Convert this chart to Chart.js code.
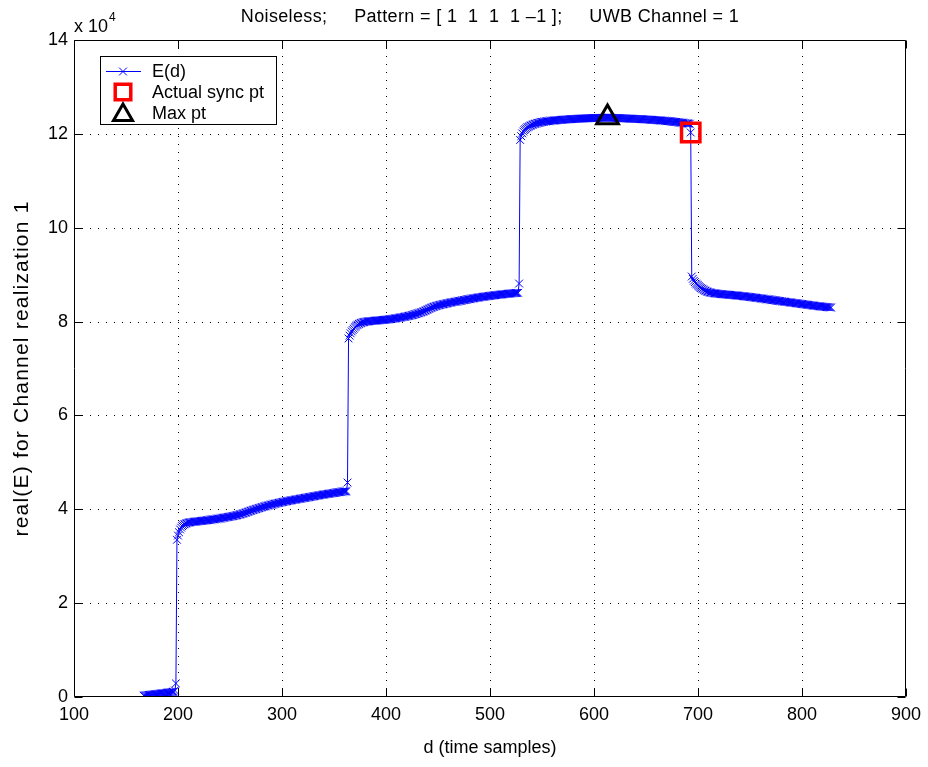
<!DOCTYPE html>
<html>
<head>
<meta charset="utf-8">
<title>E(d) sync search</title>
<script src="https://cdn.jsdelivr.net/npm/chart.js@4/dist/chart.umd.min.js"></script>
<style>
  html, body { margin: 0; padding: 0; background: #fff; }
  canvas { display: block; }
</style>
</head>
<body>
<canvas id="c" width="928" height="767"></canvas>
<script>
// Timing metric E(d) for one UWB channel realization, one value per sample d.
const FIRST_SAMPLE = 167;

// before the first pulse enters the window
const eRun0 = [
  300, 330, 360, 380, 410, 440, 460, 490, 520, 540, 570, 600, 620, 650, 680, 700,
  730, 760, 790, 810, 840, 870, 900, 930, 960, 990, 1020, 1060, 1100, 1150, 1400, 2900
];
// one pulse captured (d = 199 .. 363)
const eRun1 = [
  33500, 34400, 35100, 35700, 36100, 36400, 36600, 36800, 36900, 37000, 37100, 37150,
  37200, 37240, 37270, 37300, 37330, 37360, 37380, 37410, 37430, 37460,
  37480, 37510, 37530, 37560, 37580, 37610, 37640, 37670, 37700, 37730,
  37760, 37790, 37820, 37850, 37880, 37910, 37940, 37980, 38010, 38050,
  38080, 38120, 38160, 38190, 38230, 38270, 38310, 38350, 38390, 38430,
  38470, 38510, 38560, 38600, 38650, 38700, 38750, 38810, 38870, 38930,
  38990, 39060, 39130, 39200, 39280, 39360, 39440, 39520, 39600, 39680,
  39760, 39840, 39910, 39980, 40050, 40120, 40190, 40260, 40330, 40400,
  40470, 40540, 40600, 40660, 40720, 40780, 40840, 40900, 40950, 41010,
  41060, 41120, 41170, 41220, 41270, 41320, 41370, 41420, 41470, 41520,
  41560, 41610, 41650, 41700, 41740, 41790, 41830, 41870, 41910, 41950,
  41990, 42030, 42070, 42110, 42150, 42190, 42230, 42270, 42310, 42350,
  42390, 42430, 42470, 42510, 42550, 42590, 42630, 42670, 42710, 42750,
  42790, 42830, 42870, 42910, 42950, 42990, 43030, 43060, 43100, 43140,
  43170, 43210, 43240, 43280, 43310, 43350, 43380, 43420, 43450, 43490,
  43520, 43550, 43590, 43620, 43650, 43680, 43710, 43740, 43770, 43800,
  43830, 43860, 45700
];
// two pulses captured (d = 364 .. 528)
const eRun2 = [
  76400, 77000, 77500, 77900, 78200, 78500, 78800, 79000, 79200, 79350, 79500, 79600,
  79700, 79780, 79850, 79900, 79950, 79990, 80020, 80050, 80080, 80100,
  80120, 80140, 80160, 80180, 80200, 80220, 80240, 80260, 80280, 80300,
  80320, 80340, 80360, 80380, 80400, 80430, 80460, 80490, 80520, 80550,
  80580, 80610, 80640, 80680, 80710, 80750, 80790, 80830, 80870, 80910,
  80950, 80990, 81030, 81080, 81120, 81170, 81220, 81270, 81320, 81380,
  81440, 81500, 81560, 81620, 81690, 81760, 81830, 81910, 81990, 82070,
  82150, 82250, 82350, 82460, 82570, 82680, 82790, 82890, 82980, 83070,
  83150, 83230, 83300, 83370, 83430, 83490, 83550, 83600, 83650, 83700,
  83750, 83800, 83850, 83900, 83950, 84000, 84050, 84100, 84140, 84180,
  84220, 84260, 84300, 84340, 84380, 84420, 84460, 84500, 84540, 84580,
  84620, 84660, 84700, 84740, 84780, 84820, 84860, 84900, 84940, 84980,
  85020, 85060, 85100, 85130, 85170, 85200, 85240, 85270, 85300, 85330,
  85360, 85390, 85420, 85450, 85480, 85510, 85540, 85570, 85600, 85620,
  85650, 85680, 85700, 85730, 85750, 85780, 85800, 85830, 85850, 85870,
  85900, 85920, 85940, 85970, 85990, 86010, 86030, 86050, 86070, 86090,
  86110, 86130, 88100
];
// three pulses captured (d = 529 .. 693)
const eRun3 = [
  118700, 119500, 120100, 120500, 120800, 121000, 121200, 121400, 121500, 121650, 121750, 121850,
  121950, 122050, 122130, 122200, 122270, 122330, 122380, 122430, 122480, 122520,
  122560, 122600, 122630, 122660, 122690, 122720, 122740, 122770, 122790, 122810,
  122830, 122850, 122870, 122890, 122910, 122930, 122950, 122970, 122990, 123010,
  123030, 123050, 123060, 123080, 123090, 123110, 123120, 123140, 123150, 123160,
  123180, 123190, 123200, 123220, 123230, 123240, 123250, 123260, 123270, 123280,
  123290, 123300, 123310, 123320, 123330, 123340, 123350, 123350, 123360, 123370,
  123380, 123380, 123390, 123400, 123400, 123410, 123420, 123420, 123430, 123440,
  123440, 123460, 123500, 123470, 123450, 123430, 123420, 123410, 123400, 123390,
  123380, 123370, 123360, 123350, 123340, 123330, 123320, 123310, 123300, 123290,
  123280, 123270, 123260, 123250, 123240, 123230, 123220, 123210, 123200, 123190,
  123180, 123170, 123160, 123150, 123140, 123120, 123110, 123100, 123080, 123070,
  123060, 123040, 123030, 123010, 123000, 122980, 122970, 122950, 122940, 122920,
  122900, 122880, 122870, 122850, 122830, 122810, 122790, 122770, 122750, 122730,
  122710, 122690, 122670, 122650, 122620, 122600, 122580, 122550, 122530, 122500,
  122480, 122450, 122420, 122400, 122370, 122340, 122310, 122280, 122250, 122220,
  122190, 122150, 120300
];
// inverted last pulse enters the window (d = 694 .. 828)
const eRun4 = [
  89600, 89100, 88700, 88400, 88100, 87900, 87700, 87500, 87300, 87150, 87000, 86850,
  86700, 86580, 86470, 86380, 86300, 86240, 86180, 86130, 86090, 86050,
  86020, 85990, 85960, 85930, 85910, 85880, 85860, 85840, 85820, 85800,
  85780, 85760, 85740, 85720, 85700, 85680, 85660, 85640, 85620, 85600,
  85580, 85560, 85540, 85510, 85490, 85470, 85440, 85420, 85390, 85370,
  85340, 85320, 85290, 85260, 85240, 85210, 85180, 85150, 85120, 85090,
  85060, 85030, 85000, 84970, 84940, 84910, 84880, 84850, 84820, 84790,
  84760, 84730, 84700, 84670, 84640, 84610, 84580, 84550, 84520, 84490,
  84460, 84430, 84400, 84370, 84340, 84310, 84280, 84250, 84220, 84190,
  84160, 84130, 84100, 84070, 84040, 84010, 83980, 83950, 83920, 83890,
  83860, 83830, 83800, 83770, 83740, 83710, 83680, 83650, 83620, 83590,
  83560, 83530, 83500, 83470, 83440, 83410, 83380, 83350, 83320, 83300,
  83270, 83250, 83220, 83200, 83170, 83150, 83130, 83100, 83080, 83060,
  83040, 83020, 83000
];

const SYNC_SAMPLE = 693;                       // actual synchronisation point
const xTicks = [100, 200, 300, 400, 500, 600, 700, 800, 900];
const yTicks = [0, 20000, 40000, 60000, 80000, 100000, 120000, 140000];
const yTickLabels = ['0', '2', '4', '6', '8', '10', '12', '14'];
const titleText = 'Noiseless;     Pattern = [ 1  1  1  1 \u20131 ];     UWB Channel = 1';
const xTitle = 'd (time samples)';
const yTitle = 'real(E) for Channel realization 1';
const legendLabels = ['E(d)', 'Actual sync pt', 'Max pt'];

// ---- derived series ----
const energy = [...eRun0, ...eRun1, ...eRun2, ...eRun3, ...eRun4];
const curve = energy.map((v, i) => ({ x: FIRST_SAMPLE + i, y: v }));
const maxIdx = energy.indexOf(Math.max(...energy));
const maxPt = [{ x: FIRST_SAMPLE + maxIdx, y: energy[maxIdx] }];
const syncPt = [{ x: SYNC_SAMPLE, y: energy[SYNC_SAMPLE - FIRST_SAMPLE] }];

const FONT = "'Liberation Sans', Arial, Helvetica, sans-serif";
const BLUE = '#0000ff';

const styles = {
  curve:  { pointStyle: 'crossRot', radius: 5.5, borderWidth: 1, color: BLUE },
  sync:   { pointStyle: 'rect', radius: 13, borderWidth: 3.5, color: '#ff0000' },
  max:    { pointStyle: 'triangle', radius: 12.5, borderWidth: 3, color: '#000000' }
};

function marker(ctx, st, x, y, radius, fill) {
  ctx.save();
  ctx.strokeStyle = st.color;
  ctx.fillStyle = fill || 'rgba(0,0,0,0)';
  ctx.lineWidth = st.borderWidth;
  Chart.helpers.drawPoint(ctx, { pointStyle: st.pointStyle, rotation: 0, radius: radius, borderWidth: st.borderWidth }, x, y);
  ctx.restore();
}

// axes frame, dotted grid, inward ticks and all the lettering
const decor = {
  id: 'decor',
  beforeDatasetsDraw(chart) {
    const { ctx, chartArea: a, scales: { x, y } } = chart;
    ctx.save();
    ctx.strokeStyle = '#000';
    ctx.lineWidth = 1;
    ctx.setLineDash([1, 7]);
    ctx.beginPath();
    xTicks.forEach(t => {
      if (t <= x.min || t >= x.max) return;
      const px = Math.round(x.getPixelForValue(t)) + 0.5;
      ctx.moveTo(px, a.bottom); ctx.lineTo(px, a.top);
    });
    yTicks.forEach(t => {
      if (t <= y.min || t >= y.max) return;
      const py = Math.round(y.getPixelForValue(t)) + 0.5;
      ctx.moveTo(a.left, py); ctx.lineTo(a.right, py);
    });
    ctx.stroke();
    ctx.restore();
  },
  afterDatasetsDraw(chart) {
    const { ctx, chartArea: a, scales: { x, y } } = chart;
    const L = Math.round(a.left) + 0.5, R = Math.round(a.right) - 0.5;
    const T = Math.round(a.top) + 0.5, B = Math.round(a.bottom) - 0.5;
    ctx.save();
    ctx.strokeStyle = '#000';
    ctx.lineWidth = 1;
    ctx.beginPath();
    ctx.rect(L, T, R - L, B - T);
    const tl = 8;
    xTicks.forEach(t => {
      const px = Math.round(x.getPixelForValue(t)) + 0.5;
      ctx.moveTo(px, B); ctx.lineTo(px, B - tl);
      ctx.moveTo(px, T); ctx.lineTo(px, T + tl);
    });
    yTicks.forEach(t => {
      const py = Math.round(y.getPixelForValue(t)) + 0.5;
      ctx.moveTo(L, py); ctx.lineTo(L + tl, py);
      ctx.moveTo(R, py); ctx.lineTo(R - tl, py);
    });
    ctx.stroke();

    // legend
    const bx = 100.5, by = 56.5, bw = 176, bh = 68;
    ctx.fillStyle = '#fff';
    ctx.fillRect(bx, by, bw, bh);
    ctx.strokeRect(bx, by, bw, bh);
    const mx = 123, rows = [71, 92, 113];
    ctx.strokeStyle = BLUE;
    ctx.beginPath();
    ctx.moveTo(106, rows[0] + 0.5); ctx.lineTo(141, rows[0] + 0.5);
    ctx.stroke();
    marker(ctx, styles.curve, mx, rows[0] + 0.5, styles.curve.radius);
    marker(ctx, styles.sync, mx, rows[1], 11, '#fff');
    marker(ctx, styles.max, mx, rows[2] + 2, 11, '#fff');
    ctx.fillStyle = '#000';
    ctx.font = '18px ' + FONT;
    ctx.textAlign = 'left';
    ctx.textBaseline = 'middle';
    legendLabels.forEach((s, i) => ctx.fillText(s, 152, rows[i] + 1));
    ctx.restore();
  },
  afterDraw(chart) {
    const { ctx, chartArea: a } = chart;
    const cx = (a.left + a.right) / 2;
    const spaced = 'letterSpacing' in ctx;
    ctx.save();
    ctx.fillStyle = '#000';
    ctx.font = '18px ' + FONT;
    ctx.textBaseline = 'middle';
    ctx.textAlign = 'center';
    if (spaced) ctx.letterSpacing = '0.35px';
    ctx.fillText(titleText, cx, 17);
    if (spaced) ctx.letterSpacing = '0px';
    ctx.fillText(xTitle, cx, 748);
    ctx.textAlign = 'left';
    ctx.textBaseline = 'alphabetic';
    ctx.fillText('x 10', 74, 32);
    ctx.font = '12px ' + FONT;
    ctx.fillText('4', 109, 21);
    // rotated y label, set a little larger and more open than the rest
    ctx.font = '21px ' + FONT;
    if (spaced) ctx.letterSpacing = '1.2px';
    ctx.translate(22, (a.top + a.bottom) / 2);
    ctx.rotate(-Math.PI / 2);
    ctx.textAlign = 'center';
    ctx.textBaseline = 'middle';
    ctx.fillText(yTitle, 0, 0);
    ctx.restore();
  }
};

new Chart(document.getElementById('c'), {
  type: 'line',
  data: {
    datasets: [
      {
        label: legendLabels[1],
        data: syncPt,
        showLine: false,
        pointStyle: styles.sync.pointStyle,
        pointRadius: styles.sync.radius,
        pointBorderWidth: styles.sync.borderWidth,
        pointBorderColor: styles.sync.color,
        pointBackgroundColor: 'rgba(0,0,0,0)',
        order: 0
      },
      {
        label: legendLabels[2],
        data: maxPt,
        showLine: false,
        pointStyle: styles.max.pointStyle,
        pointRadius: styles.max.radius,
        pointBorderWidth: styles.max.borderWidth,
        pointBorderColor: styles.max.color,
        pointBackgroundColor: 'rgba(0,0,0,0)',
        order: 0
      },
      {
        label: legendLabels[0],
        data: curve,
        borderColor: BLUE,
        borderWidth: 1,
        tension: 0,
        pointStyle: styles.curve.pointStyle,
        pointRadius: styles.curve.radius,
        pointBorderWidth: styles.curve.borderWidth,
        pointBorderColor: BLUE,
        pointBackgroundColor: BLUE,
        order: 1
      }
    ]
  },
  options: {
    responsive: false,
    animation: false,
    events: [],
    layout: { padding: { top: 40, right: 21, left: 0, bottom: 0 } },
    plugins: { legend: { display: false }, title: { display: false }, tooltip: { enabled: false } },
    scales: {
      x: {
        type: 'linear',
        min: 100, max: 900,
        afterFit: s => { s.height = 70; },
        afterBuildTicks: s => { s.ticks = xTicks.map(v => ({ value: v })); },
        grid: { display: false, drawTicks: false },
        border: { display: false },
        ticks: { color: '#000', padding: 7, font: { family: FONT, size: 18 }, maxRotation: 0, autoSkip: false }
      },
      y: {
        type: 'linear',
        min: 0, max: 140000,
        afterFit: s => { s.width = 74; },
        afterBuildTicks: s => { s.ticks = yTicks.map(v => ({ value: v })); },
        grid: { display: false, drawTicks: false },
        border: { display: false },
        ticks: {
          color: '#000', padding: 6, font: { family: FONT, size: 18 }, autoSkip: false,
          callback: v => yTickLabels[yTicks.indexOf(v)]
        }
      }
    }
  },
  plugins: [decor]
});
</script>
</body>
</html>
